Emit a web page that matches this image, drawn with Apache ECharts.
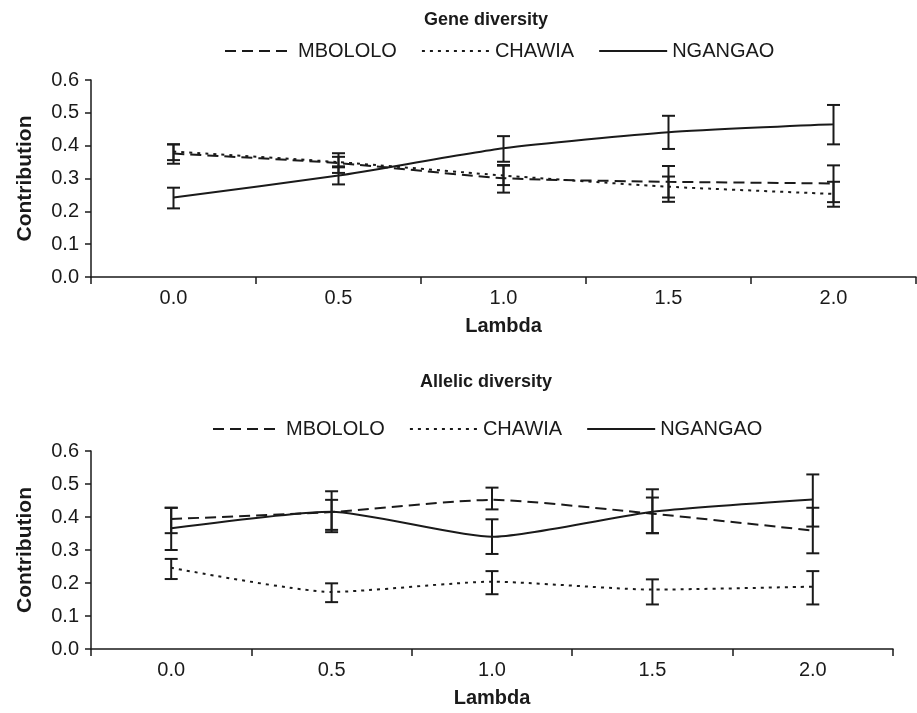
<!DOCTYPE html>
<html>
<head>
<meta charset="utf-8">
<title>Gene and allelic diversity</title>
<script src="https://cdn.jsdelivr.net/npm/echarts@6/dist/echarts.min.js"></script>
<style>
  html, body { margin: 0; padding: 0; background: #fff; }
  #chart { width: 917px; height: 713px; }
</style>
</head>
<body>
<div id="chart"></div>
<script>
// x categories (lambda)
var lambdaLabels = ['0.0', '0.5', '1.0', '1.5', '2.0'];
var seriesNames = ['MBOLOLO', 'CHAWIA', 'NGANGAO'];

// Gene diversity
var geneMbololo = [0.376, 0.347, 0.301, 0.290, 0.285];
var geneMbololoLow = [0.345, 0.317, 0.257, 0.242, 0.228];
var geneMbololoHigh = [0.404, 0.377, 0.341, 0.338, 0.340];
var geneChawia = [0.382, 0.350, 0.309, 0.275, 0.253];
var geneChawiaLow = [0.356, 0.334, 0.280, 0.229, 0.214];
var geneChawiaHigh = [0.404, 0.366, 0.339, 0.306, 0.290];
var geneNgangao = [0.242, 0.309, 0.392, 0.441, 0.465];
var geneNgangaoLow = [0.209, 0.282, 0.351, 0.390, 0.404];
var geneNgangaoHigh = [0.272, 0.337, 0.429, 0.491, 0.524];

// Allelic diversity
var alleMbololo = [0.394, 0.415, 0.452, 0.410, 0.359];
var alleMbololoLow = [0.351, 0.354, 0.423, 0.351, 0.290];
var alleMbololoHigh = [0.428, 0.478, 0.489, 0.459, 0.428];
var alleChawia = [0.246, 0.173, 0.204, 0.180, 0.189];
var alleChawiaLow = [0.212, 0.142, 0.166, 0.135, 0.135];
var alleChawiaHigh = [0.273, 0.199, 0.236, 0.211, 0.236];
var alleNgangao = [0.366, 0.416, 0.340, 0.416, 0.453];
var alleNgangaoLow = [0.300, 0.361, 0.288, 0.351, 0.371];
var alleNgangaoHigh = [0.428, 0.452, 0.393, 0.484, 0.529];

var ink = '#1a1a1a';
var font = '"Liberation Sans", Arial, sans-serif';
var lineTypes = [[11, 6], [3, 5], 'solid'];

function errData(low, high) {
  var out = [];
  for (var i = 0; i < low.length; i++) out.push([i, low[i], high[i]]);
  return out;
}

// vertical bar with caps
function renderErrorBar(params, api) {
  var x = api.value(0);
  var top = api.coord([x, api.value(2)]);
  var bot = api.coord([x, api.value(1)]);
  var hw = 6.5;
  var st = { stroke: ink, lineWidth: 2 };
  return {
    type: 'group',
    children: [
      { type: 'line', shape: { x1: top[0], y1: top[1], x2: bot[0], y2: bot[1] }, style: st },
      { type: 'line', shape: { x1: top[0] - hw, y1: top[1], x2: top[0] + hw, y2: top[1] }, style: st },
      { type: 'line', shape: { x1: bot[0] - hw, y1: bot[1], x2: bot[0] + hw, y2: bot[1] }, style: st }
    ]
  };
}

function xAxisFor(idx) {
  return {
    type: 'category',
    gridIndex: idx,
    data: lambdaLabels,
    name: 'Lambda',
    nameLocation: 'middle',
    nameGap: 39,
    nameTextStyle: { fontFamily: font, fontSize: 20, fontWeight: 'bold', color: ink },
    axisLine: { lineStyle: { color: ink, width: 1.5 } },
    axisTick: { show: true, length: 7, lineStyle: { color: ink, width: 1.5 } },
    axisLabel: { margin: 11, fontFamily: font, fontSize: 20, color: ink }
  };
}

function yAxisFor(idx) {
  return {
    type: 'value',
    gridIndex: idx,
    min: 0,
    max: 0.6,
    interval: 0.1,
    name: 'Contribution',
    nameLocation: 'middle',
    nameRotate: 90,
    nameGap: 55,
    nameTextStyle: { fontFamily: font, fontSize: 21, fontWeight: 'bold', color: ink },
    splitLine: { show: false },
    axisLine: { show: true, lineStyle: { color: ink, width: 1.5 } },
    axisTick: { show: true, length: 6, lineStyle: { color: ink, width: 1.5 } },
    axisLabel: {
      margin: 12, fontFamily: font, fontSize: 20, color: ink,
      formatter: function (v) { return v.toFixed(1); }
    }
  };
}

function lineSeries(name, k, idx, values) {
  return {
    name: name,
    type: 'line',
    xAxisIndex: idx,
    yAxisIndex: idx,
    data: values,
    smooth: 0.2,
    symbol: 'none',
    lineStyle: { color: ink, width: 2, type: lineTypes[k] },
    itemStyle: { color: ink },
    z: 3
  };
}

function barSeries(idx, low, high) {
  return {
    type: 'custom',
    xAxisIndex: idx,
    yAxisIndex: idx,
    renderItem: renderErrorBar,
    encode: { x: 0, y: [1, 2] },
    data: errData(low, high),
    z: 4
  };
}

function legendFor(left, top) {
  return {
    data: seriesNames,
    left: left,
    top: top,
    itemWidth: 68,
    itemHeight: 14,
    itemGap: 24,
    itemStyle: { opacity: 0 },
    textStyle: { fontFamily: font, fontSize: 20, color: ink },
    selectedMode: false
  };
}

var chartDom = document.getElementById('chart');
var myChart = echarts.init(chartDom, null, { renderer: 'canvas' });

var option = {
  animation: false,
  backgroundColor: '#fff',
  title: [
    {
      text: 'Gene diversity', left: 481, top: 6, textAlign: 'center',
      textStyle: { fontFamily: font, fontSize: 18, fontWeight: 'bold', color: ink }
    },
    {
      text: 'Allelic diversity', left: 481, top: 368, textAlign: 'center',
      textStyle: { fontFamily: font, fontSize: 18, fontWeight: 'bold', color: ink }
    }
  ],
  legend: [legendFor(219, 36), legendFor(207, 414)],
  grid: [
    { left: 91, right: 1, top: 80, height: 197 },
    { left: 91, right: 24, top: 451, height: 198 }
  ],
  xAxis: [xAxisFor(0), xAxisFor(1)],
  yAxis: [yAxisFor(0), yAxisFor(1)],
  series: [
    lineSeries('MBOLOLO', 0, 0, geneMbololo),
    lineSeries('CHAWIA', 1, 0, geneChawia),
    lineSeries('NGANGAO', 2, 0, geneNgangao),
    barSeries(0, geneMbololoLow, geneMbololoHigh),
    barSeries(0, geneChawiaLow, geneChawiaHigh),
    barSeries(0, geneNgangaoLow, geneNgangaoHigh),
    lineSeries('MBOLOLO', 0, 1, alleMbololo),
    lineSeries('CHAWIA', 1, 1, alleChawia),
    lineSeries('NGANGAO', 2, 1, alleNgangao),
    barSeries(1, alleMbololoLow, alleMbololoHigh),
    barSeries(1, alleChawiaLow, alleChawiaHigh),
    barSeries(1, alleNgangaoLow, alleNgangaoHigh)
  ]
};
option && myChart.setOption(option);
</script>
</body>
</html>
